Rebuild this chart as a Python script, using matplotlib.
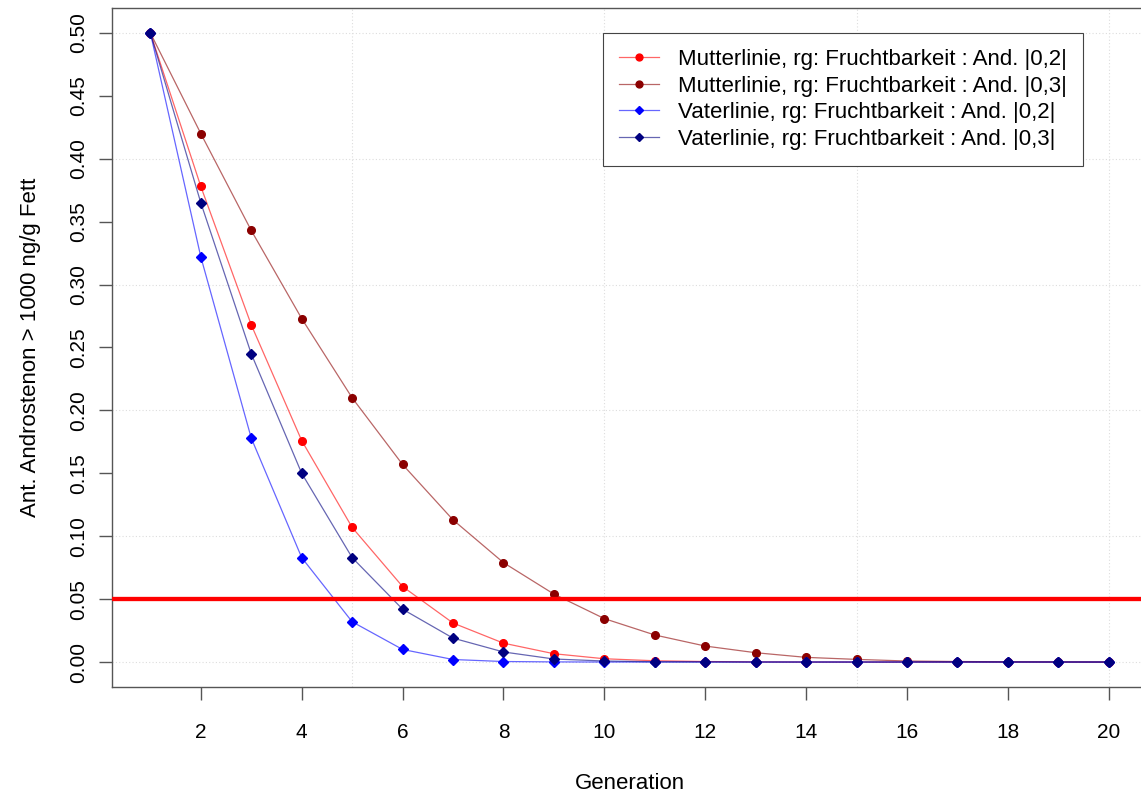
import matplotlib
matplotlib.use("Agg")
import matplotlib.pyplot as plt

plt.rcParams['font.family'] = ['Liberation Sans', 'DejaVu Sans']

# Anteil Tiere mit Androstenon > 1000 ng/g Fett je Generation
generation = list(range(1, 21))
mutter_02 = [0.500, 0.378, 0.268, 0.176, 0.107, 0.060, 0.031, 0.015, 0.0066, 0.0026,
             0.0010, 0.0004, 0.0001, 0.0, 0.0, 0.0, 0.0, 0.0, 0.0, 0.0]
mutter_03 = [0.500, 0.420, 0.343, 0.273, 0.210, 0.157, 0.113, 0.079, 0.054, 0.0345,
             0.0215, 0.0127, 0.0074, 0.0037, 0.0021, 0.0008, 0.0004, 0.0002, 0.0001, 0.0]
vater_02 = [0.500, 0.322, 0.178, 0.083, 0.032, 0.010, 0.002, 0.0004, 0.0001, 0.0,
            0.0, 0.0, 0.0, 0.0, 0.0, 0.0, 0.0, 0.0, 0.0, 0.0]
vater_03 = [0.500, 0.365, 0.245, 0.150, 0.083, 0.042, 0.019, 0.008, 0.0024, 0.0008,
            0.0002, 0.0001, 0.0, 0.0, 0.0, 0.0, 0.0, 0.0, 0.0, 0.0]

labels = ['Mutterlinie, rg: Fruchtbarkeit : And. |0,2|',
          'Mutterlinie, rg: Fruchtbarkeit : And. |0,3|',
          'Vaterlinie, rg: Fruchtbarkeit : And. |0,2|',
          'Vaterlinie, rg: Fruchtbarkeit : And. |0,3|']
schwelle = 0.05

y_ticks = [0.00, 0.05, 0.10, 0.15, 0.20, 0.25, 0.30, 0.35, 0.40, 0.45, 0.50]
x_ticks = [2, 4, 6, 8, 10, 12, 14, 16, 18, 20]
y_grid = [0.0, 0.1, 0.2, 0.3, 0.4, 0.5]
x_grid = [5, 10, 15, 20]

fig = plt.figure(figsize=(11.41, 7.96), dpi=100)
fig.patch.set_facecolor('white')
ax = fig.add_axes([0.0982, 0.1367, 0.9071, 0.8535])

# light dotted grid like R's grid()
for g in y_grid:
    ax.axhline(g, color='#dddddd', linestyle=(0, (1, 2)), linewidth=0.8, zorder=0)
for g in x_grid:
    ax.axvline(g, color='#dddddd', linestyle=(0, (1, 2)), linewidth=0.8, zorder=0)

series = [
    (mutter_02, 'o', (1.0, 0.0, 0.0), 5.5),
    (mutter_03, 'o', (0.545, 0.0, 0.0), 5.5),
    (vater_02, 'D', (0.0, 0.0, 1.0), 5.0),
    (vater_03, 'D', (0.0, 0.0, 0.502), 5.0),
]
for (vals, mk, col, ms), lab in zip(series, labels):
    ax.plot(generation, vals, color=col + (0.6,), linewidth=0.9,
            marker=mk, markersize=ms, markerfacecolor=col, markeredgecolor=col,
            label=lab, zorder=2)

ax.axhline(schwelle, color='#ff0000', linewidth=3.1, zorder=3)

ax.set_xlim(0.24, 20.76)
ax.set_ylim(-0.02, 0.52)
ax.set_xticks(x_ticks)
ax.set_xticklabels([str(t) for t in x_ticks])
ax.set_yticks(y_ticks)
ax.set_yticklabels([f'{t:.2f}' for t in y_ticks], rotation=90, va='center')

ax.tick_params(axis='both', direction='out', length=9.5, width=1.0,
               color='#555555', labelsize=15, labelcolor='black')
ax.tick_params(axis='x', pad=16)
ax.tick_params(axis='y', pad=8)
for sp in ax.spines.values():
    sp.set_color('#555555')
    sp.set_linewidth(1.0)

ax.set_xlabel('Generation', fontsize=16)
ax.set_ylabel('Ant. Androstenon > 1000 ng/g Fett', fontsize=16)
ax.xaxis.set_label_coords(0.5, -0.127)
ax.yaxis.set_label_coords(-0.0686, 0.5)

leg = ax.legend(loc='upper right', bbox_to_anchor=(0.9382, 0.9629),
                borderaxespad=0, fontsize=16, fancybox=False, framealpha=1,
                edgecolor='#444444', borderpad=0.72, labelspacing=0.25,
                handlelength=1.8, handletextpad=0.85, markerscale=0.9)
leg.get_frame().set_linewidth(0.8)

fig.savefig('out.png', dpi=100, facecolor='white')
